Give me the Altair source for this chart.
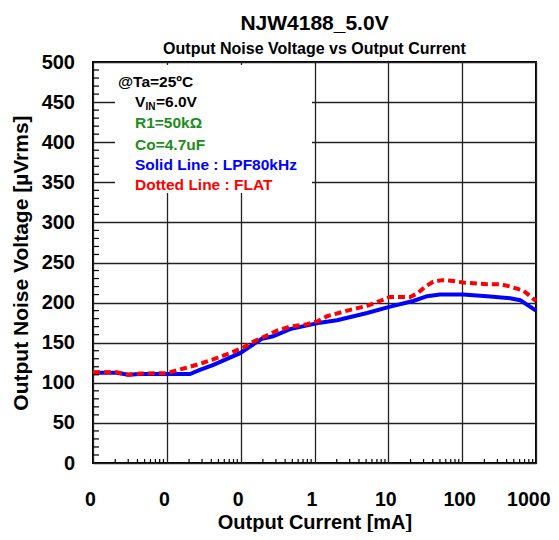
import altair as alt
import pandas as pd

# ---- data ----
current_lpf = [0.001, 0.0021, 0.003, 0.0043, 0.01, 0.0206, 0.028, 0.042, 0.098, 0.195, 0.275,
               0.467, 1.19, 2.02, 5.16, 10.6, 21.7, 33.6, 50, 103, 217, 447, 611, 1000]
noise_lpf = [112.5, 112.5, 110, 111, 111, 111, 116, 122, 137, 155, 158,
             167, 175, 178, 187, 195, 202, 208, 210, 210, 208, 205.5, 203, 190]

current_flat = [0.001, 0.0021, 0.003, 0.0043, 0.01, 0.0142, 0.0206, 0.031, 0.048, 0.072, 0.108,
                0.147, 0.214, 0.311, 0.467, 0.795, 1.12, 1.48, 3.04, 5.16, 7.74, 10.6, 19.7,
                25.3, 31.6, 40.5, 53.6, 75.5, 103, 217, 327, 447, 676, 1000]
noise_flat = [113, 113, 110, 111.5, 112, 116, 120, 125, 131, 137, 144,
              151, 158, 165, 170, 173, 177, 183, 191, 196, 202, 207, 207,
              212, 220, 226, 228, 227, 225, 223, 223, 220, 215, 202]

x_ticks = [0.001, 0.01, 0.1, 1, 10, 100, 1000]
y_ticks = list(range(0, 501, 50))
x_minor = [m * d for d in [0.001, 0.01, 0.1, 1, 10, 100] for m in range(2, 10)]
y_minor = [v for v in range(10, 500, 10) if v % 50]

W, H = 443, 401
FONT = "Liberation Sans"

lpf = pd.DataFrame({"current": current_lpf, "noise": noise_lpf})
flat = pd.DataFrame({"current": current_flat, "noise": noise_flat})
xm = pd.DataFrame({"current": x_minor})
ym = pd.DataFrame({"noise": y_minor})
one = pd.DataFrame({"a": [0]})

x_scale = alt.Scale(type="log", domain=[0.001, 1000], nice=False)
y_scale = alt.Scale(domain=[0, 500], nice=False)

x_axis = alt.Axis(values=x_ticks, format=".0f", grid=True, gridColor="#222", gridWidth=1.3,
                  domain=False, ticks=False, tickSize=0, labelFont=FONT, labelFontSize=19.5,
                  labelFontWeight="bold", labelColor="black", labelBaseline="alphabetic",
                  labelPadding=42.5, labelFlush=False, labelOverlap=False,
                  labelAlign={"condition": {"test": "datum.value >= 1000", "value": "right"},
                              "value": "center"},
                  labelOffset={"condition": {"test": "datum.value >= 1000", "value": 14},
                               "value": -3},
                  title="Output Current [mA]", titleFont=FONT, titleFontSize=20,
                  titleFontWeight="bold", titleColor="black", titleX=221.5, titleY=65,
                  titleBaseline="alphabetic", titleAlign="center")
y_axis = alt.Axis(values=y_ticks, grid=True, gridColor="#222", gridWidth=1.3,
                  domain=False, ticks=False, tickSize=0, labelFont=FONT, labelFontSize=20,
                  labelFontWeight="bold", labelColor="black", labelBaseline="middle",
                  labelPadding=18.5, labelFlush=False, labelOverlap=False,
                  title="Output Noise Voltage [µVrms]", titleFont=FONT, titleFontSize=21,
                  titleFontWeight="bold", titleColor="black", titleX=-66, titleY=200.5,
                  titleAngle=270, titleBaseline="alphabetic", titleAlign="center")

X = alt.X("current:Q", scale=x_scale, axis=x_axis)
Y = alt.Y("noise:Q", scale=y_scale, axis=y_axis)

blue = alt.Chart(lpf).mark_line(color="#0000ff", strokeWidth=4).encode(x=X, y=Y)
red = alt.Chart(flat).mark_line(color="#ff0000", strokeWidth=4, strokeDash=[7, 4]).encode(x=X, y=Y)

box = alt.Chart(one).mark_rect(color="white").encode(
    x=alt.value(22), x2=alt.value(219), y=alt.value(3), y2=alt.value(131))

xminor = alt.Chart(xm).mark_rule(color="black", strokeWidth=1.2).encode(
    x=X, y=alt.value(H), y2=alt.value(H - 4))
yminor = alt.Chart(ym).mark_rule(color="black", strokeWidth=1.2).encode(
    y=Y, x=alt.value(0), x2=alt.value(6))


def label(txt, x, y, color="black", size=15.5):
    return alt.Chart(one).mark_text(
        text=txt, font=FONT, fontSize=size, fontWeight="bold", color=color,
        align="left", baseline="alphabetic"
    ).encode(x=alt.value(x), y=alt.value(y))


texts = [
    label("@Ta=25ºC", 25, 24.7),
    label("V", 42, 44.7),
    label("IN", 52.5, 47.7, size=10),
    label("=6.0V", 63, 44.7),
    label("R1=50kΩ", 42, 66.3, color="#1e8c1e"),
    label("Co=4.7uF", 42, 88, color="#1e8c1e"),
    label("Solid Line : LPF80kHz", 42, 108, color="#0000ff"),
    label("Dotted Line : FLAT", 42, 128, color="#ff0000"),
]

chart = alt.layer(blue, box, xminor, yminor, red, *texts).properties(
    width=W, height=H,
    autosize=alt.AutoSizeParams(type="none"),
    padding={"left": 85, "top": 54, "right": 15, "bottom": 69},
    title=alt.TitleParams(
        text="NJW4188_5.0V", subtitle="Output Noise Voltage vs Output Current",
        font=FONT, fontSize=21, fontWeight="bold", color="black",
        subtitleFont=FONT, subtitleFontSize=16, subtitleFontWeight="bold",
        subtitleColor="black", anchor="middle", offset=-5, subtitlePadding=7),
).configure_view(stroke="black", strokeWidth=2)

chart.save("out.html", embed_options={"renderer": "svg", "actions": False})
